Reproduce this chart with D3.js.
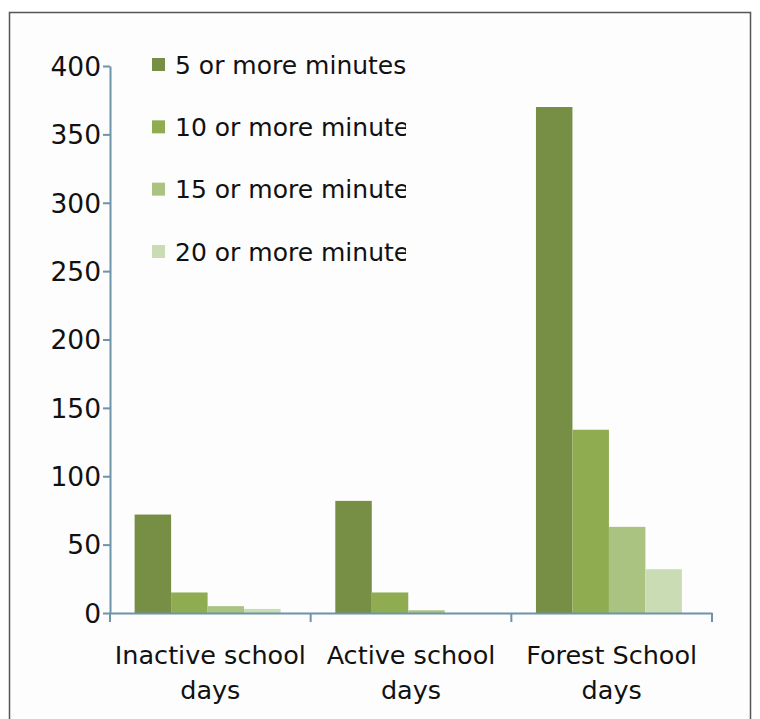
<!DOCTYPE html>
<html>
<head>
<meta charset="utf-8">
<script src="https://cdn.jsdelivr.net/npm/d3@7"></script>
<style>
  body { margin: 0; background: #fff; }
  text { font-family: "DejaVu Sans", sans-serif; fill: #111; }
</style>
</head>
<body>
<div class="canvas"></div>
<script>
// data
const categories = [['Inactive school', 'days'], ['Active school', 'days'], ['Forest School', 'days']];
const seriesNames = ['5 or more minutes', '10 or more minutes', '15 or more minutes', '20 or more minutes'];
const min5 = [72, 82, 370];
const min10 = [15, 15, 134];
const min15 = [5, 2, 63];
const min20 = [3, 0, 32];
const yTicks = [0, 50, 100, 150, 200, 250, 300, 350, 400];
const colors = ['#778f45', '#8fac50', '#abc381', '#cadcb4'];

const series = [min5, min10, min15, min20];

const svg = d3.select('.canvas')
    .append('svg')
    .attr('width', 760)
    .attr('height', 719)

// frame
svg.append('rect')
    .attr('x', 9.5)
    .attr('y', 12.5)
    .attr('width', 741)
    .attr('height', 720)
    .attr('fill', '#fdfdfd')
    .attr('stroke', '#555')
    .attr('stroke-width', 1.5)

const axisColor = '#6d94a9';

const y = d3.scaleLinear()
    .domain([0, 400])
    .range([613, 66]);

const x = d3.scaleBand()
    .domain(categories.map(c => c[0]))
    .range([110, 712])
    .padding(0);

const xs = d3.scaleBand()
    .domain(seriesNames)
    .range([0, x.bandwidth()])
    .paddingInner(0)
    .paddingOuter(0.75)
    .align(0.45);

// bars
const groups = svg.append('g')
    .selectAll('g')
    .data(categories)
    .enter()
    .append('g')
    .attr('transform', d => `translate(${x(d[0])}, 0)`);

groups.selectAll('rect')
    .data((d, i) => series.map((s, j) => ({ name: seriesNames[j], value: s[i], color: colors[j] })))
    .enter()
    .append('rect')
    .attr('x', d => xs(d.name))
    .attr('width', xs.bandwidth())
    .attr('y', d => y(d.value))
    .attr('height', d => y(0) - y(d.value))
    .attr('fill', d => d.color);

// y axis
const yAxisGroup = svg.append('g')
    .attr('transform', 'translate(110, 0)');
yAxisGroup.call(d3.axisLeft(y).tickValues(yTicks).tickSize(7).tickPadding(2).tickSizeOuter(0));

// x axis
const xAxisGroup = svg.append('g')
    .attr('transform', `translate(0, ${y(0)})`);
xAxisGroup.call(d3.axisBottom(x).tickSize(0).tickFormat(''));
xAxisGroup.selectAll('.tick').remove();

// boundary ticks between categories
const bounds = categories.map(c => x(c[0])).concat([x(categories[2][0]) + x.bandwidth()]);
xAxisGroup.selectAll('line.bound')
    .data(bounds)
    .enter()
    .append('line')
    .attr('class', 'bound')
    .attr('x1', d => d).attr('x2', d => d)
    .attr('y1', 0).attr('y2', 9);

svg.selectAll('.domain, line')
    .attr('stroke', axisColor)
    .attr('stroke-width', 2);

yAxisGroup.selectAll('text')
    .attr('font-size', '26.5px')
    .attr('fill', '#111')
    .attr('dy', '0.35em');

// category labels
const labels = svg.append('g')
    .selectAll('text')
    .data(categories)
    .enter()
    .append('text')
    .attr('text-anchor', 'middle')
    .attr('font-size', '25.5px')
    .attr('x', d => x(d[0]) + x.bandwidth() / 2)
    .attr('y', 664);

labels.append('tspan').text(d => d[0]);
labels.append('tspan')
    .attr('x', d => x(d[0]) + x.bandwidth() / 2)
    .attr('dy', 35)
    .text(d => d[1]);

// legend, clipped on the right like the original
svg.append('clipPath')
    .attr('id', 'legclip')
    .append('rect')
    .attr('x', 140).attr('y', 30).attr('width', 266).attr('height', 250);

const legend = svg.append('g')
    .attr('clip-path', 'url(#legclip)');

const ly = d3.scalePoint()
    .domain(seriesNames)
    .range([65, 252]);

legend.selectAll('rect')
    .data(seriesNames)
    .enter()
    .append('rect')
    .attr('x', 152)
    .attr('y', d => ly(d) - 7)
    .attr('width', 13)
    .attr('height', 13)
    .attr('fill', (d, i) => colors[i]);

legend.selectAll('text')
    .data(seriesNames)
    .enter()
    .append('text')
    .attr('x', 175)
    .attr('y', d => ly(d))
    .attr('dy', '0.35em')
    .attr('font-size', '25px')
    .text(d => d);
</script>
</body>
</html>
